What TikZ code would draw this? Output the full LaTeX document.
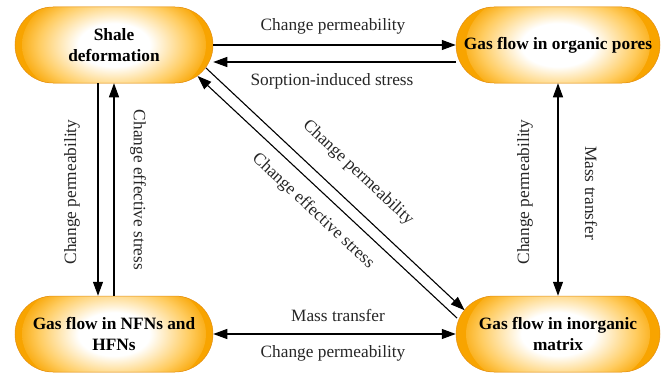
\documentclass[tikz,border=0pt]{standalone}
\usepackage{fontspec}
\setmainfont{Liberation Serif}
\usetikzlibrary{arrows.meta,calc}
\definecolor{pillout}{RGB}{248,164,0}
\definecolor{pillmid}{RGB}{255,204,96}
\definecolor{pillline}{RGB}{226,142,20}
\pgfdeclareradialshading{pillshade}{\pgfpoint{0bp}{0bp}}{color(0bp)=(white); color(9bp)=(white); color(19bp)=(pillmid); color(25bp)=(pillout); color(50bp)=(pillout)}
\tikzset{
  pill/.style={rectangle, rounded corners=38pt, minimum height=76pt, inner sep=0pt,
    fill=pillout, draw=pillline, line width=0.5pt, align=center, text=black,
    font=\bfseries\fontsize{17.3}{21}\selectfont,
    path picture={\shade[shading=pillshade] (path picture bounding box.center) ellipse [x radius=92pt, y radius=60pt];}},
  lbl/.style={font=\fontsize{17.3}{21}\selectfont, text=black!85, inner sep=0pt},
  arr/.style={line width=1.1pt, -{Triangle[length=14pt,width=10pt]}},
  darr/.style={line width=1.1pt, {Triangle[length=14pt,width=10pt]}-{Triangle[length=14pt,width=10pt]}}
}
\begin{document}
\begin{tikzpicture}[x=1pt,y=1pt]
\useasboundingbox (0,0) rectangle (666,373);
\node[pill, minimum width=198pt] (shale) at (114,328) {Shale\\deformation};
\node[pill, minimum width=204pt] (organic) at (558,328) {Gas flow in organic pores};
\node[pill, minimum width=198pt] (nfn) at (114,39) {Gas flow in NFNs and\\HFNs};
\node[pill, minimum width=204pt] (inorg) at (558,39) {Gas flow in inorganic\\matrix};

\draw[arr] (shale.east) -- (organic.west);
\draw[arr] ([yshift=-17pt]organic.west) -- ([yshift=-17pt]shale.east);
\draw[arr] ([xshift=-16pt]shale.south) -- ([xshift=-16pt]nfn.north);
\draw[arr] (nfn.north) -- (shale.south);
\draw[darr] (inorg.north) -- (organic.south);
\draw[darr] (nfn.east) -- (inorg.west);
\draw[arr] ($(shale.center)+(92,-23)$) -- ($(inorg.center)+(-93.5,23.8)$);
\draw[arr] ($(inorg.center)+(-101,16)$) -- ($(shale.center)+(83.5,-31)$);

\node[lbl] (l1) at (333,347) {Change permeability};
\node[lbl] (l2) at (332,292) {Sorption-induced stress};
\node[lbl] (l3) at (338,58) {Mass transfer};
\node[lbl] (l4) at (333,20) {Change permeability};
\node[lbl, rotate=90] (l5) at (72,181) {Change permeability};
\node[lbl, rotate=-90] (l6) at (138,183) {Change effective stress};
\node[lbl, rotate=90] (l7) at (525,181) {Change permeability};
\node[lbl, rotate=-90] (l8) at (591,180) {Mass transfer};
\node[lbl, rotate=-43] (l9) at (358,200) {Change permeability};
\node[lbl, rotate=-43] (l10) at (313,162) {Change effective stress};
\end{tikzpicture}
\end{document}
